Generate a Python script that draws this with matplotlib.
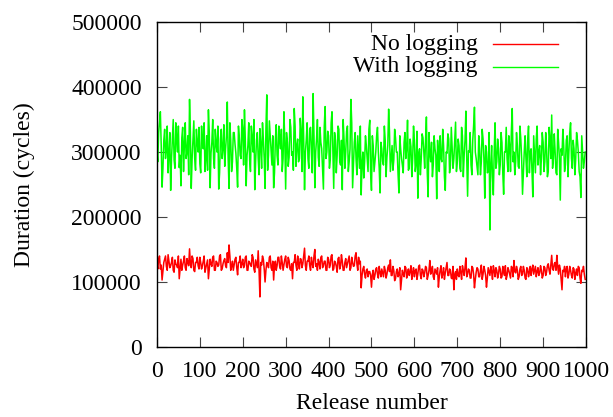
import numpy as np
import matplotlib
matplotlib.use("Agg")
import matplotlib.pyplot as plt

# Samples at releases 0, 4, 8, ..., 996
releases_a = list(range(0, 1000, 4))
# Samples at releases 2, 6, 10, ..., 998
releases_b = list(range(2, 1000, 4))

# Duration with logging (thousands of cycles)
with_logging_a = [
    300, 330, 362, 246, 318, 290, 340, 296, 241, 322, 288, 345, 300, 276, 248, 338, 312, 290, 325, 381, 244, 318, 290, 335, 300,
    282, 340, 305, 270, 325, 365, 245, 315, 290, 335, 300, 243, 320, 290, 342, 305, 377, 244, 318, 285, 330, 298, 246, 322, 290,
    335, 365, 248, 310, 288, 340, 300, 242, 318, 290, 336, 275, 320, 244, 388, 295, 325, 280, 245, 318, 295, 340, 305, 270, 362,
    243, 315, 292, 338, 300, 367, 278, 320, 290, 330, 385, 242, 318, 290, 335, 300, 390, 245, 320, 292, 338, 305, 243, 370, 300,
    325, 288, 362, 244, 318, 295, 335, 280, 242, 320, 300, 340, 285, 381, 245, 315, 290, 325, 275, 234, 300, 285, 310, 270, 349,
    241, 310, 285, 325, 300, 237, 305, 280, 318, 292, 366, 270, 310, 288, 322, 300, 237, 305, 280, 315, 290, 349, 275, 308, 290,
    318, 282, 229, 305, 290, 322, 275, 354, 231, 298, 315, 280, 305, 228, 300, 325, 285, 310, 241, 298, 320, 280, 305, 290, 346,
    285, 310, 270, 325, 295, 363, 232, 300, 280, 318, 369, 290, 265, 305, 285, 320, 229, 300, 270, 180, 310, 234, 345, 285, 305,
    280, 315, 235, 300, 290, 325, 270, 367, 300, 285, 310, 275, 320, 235, 300, 290, 318, 268, 305, 231, 295, 320, 280, 310, 290,
    315, 285, 305, 270, 320, 357, 290, 300, 265, 315, 226, 295, 310, 280, 325, 300, 345, 275, 305, 290, 318, 270, 230, 300, 285,
]
with_logging_b = [
    285, 345, 310, 275, 335, 305, 268, 330, 290, 350, 275, 318, 340, 295, 322, 270, 345, 300, 265, 330, 290, 348, 272, 315, 338,
    268, 318, 345, 290, 272, 330, 298, 350, 275, 312, 340, 268, 335, 305, 278, 325, 290, 345, 270, 330, 312, 275, 340, 295, 350,
    280, 318, 295, 345, 270, 322, 350, 285, 330, 265, 310, 345, 290, 335, 272, 348, 300, 325, 268, 342, 280, 318, 335, 290, 315,
    330, 278, 350, 295, 272, 340, 310, 285, 352, 270, 320, 300, 345, 275, 338, 268, 325, 300, 350, 278, 315, 275, 340, 290, 332,
    275, 345, 300, 330, 268, 340, 285, 318, 350, 275, 332, 270, 305, 345, 278, 330, 265, 300, 340, 282, 260, 325, 290, 335, 268,
    325, 270, 300, 338, 275, 315, 285, 340, 262, 310, 330, 290, 272, 335, 300, 265, 325, 290, 268, 330, 305, 272, 320, 262, 340,
    270, 332, 298, 265, 328, 300, 318, 268, 330, 285, 262, 325, 295, 318, 270, 290, 335, 262, 300, 328, 268, 338, 275, 318, 270,
    320, 275, 338, 262, 318, 290, 302, 330, 265, 340, 300, 278, 325, 265, 335, 290, 310, 268, 330, 280, 262, 300, 275, 320, 265,
    330, 268, 300, 338, 270, 310, 332, 285, 265, 330, 278, 340, 290, 268, 325, 262, 340, 300, 272, 325, 268, 340, 300, 265, 330,
    270, 330, 262, 338, 290, 275, 328, 268, 335, 290, 305, 335, 270, 318, 262, 330, 290, 318, 265, 330, 300, 262, 325, 275, 300,
]

# Duration without logging (thousands of cycles)
no_logging_a = [
    128, 135, 120, 103, 130, 140, 118, 132, 125, 138, 115, 128, 122, 105, 135, 126, 140, 118, 130, 151, 122, 136, 116, 130, 125,
    138, 120, 132, 115, 128, 105, 135, 124, 140, 118, 130, 126, 142, 120, 133, 125, 145, 157, 118, 132, 126, 138, 111, 130, 122,
    135, 125, 140, 118, 130, 124, 138, 115, 128, 148, 77, 126, 135, 100, 130, 122, 140, 118, 103, 132, 125, 138, 120, 130, 127,
    140, 122, 133, 118, 105, 130, 126, 140, 120, 135, 128, 152, 118, 132, 125, 138, 122, 150, 128, 135, 120, 140, 125, 132, 118,
    135, 126, 142, 120, 130, 115, 138, 125, 132, 118, 136, 128, 140, 122, 130, 125, 145, 118, 128, 91, 120, 112, 118, 108, 116,
    92, 118, 110, 122, 106, 115, 120, 108, 118, 112, 126, 134, 110, 118, 105, 120, 112, 88, 118, 108, 122, 114, 110, 125, 115,
    108, 120, 112, 126, 105, 118, 114, 122, 110, 133, 116, 108, 120, 112, 92, 118, 106, 122, 114, 130, 110, 118, 105, 88, 116,
    120, 108, 115, 125, 110, 137, 112, 118, 106, 122, 91, 115, 120, 108, 126, 112, 118, 92, 122, 110, 116, 125, 108, 118, 112,
    120, 108, 115, 125, 110, 118, 106, 122, 133, 114, 118, 108, 124, 112, 118, 104, 120, 115, 110, 126, 118, 108, 122, 114, 118,
    110, 122, 115, 128, 112, 141, 118, 130, 141, 112, 120, 88, 116, 108, 124, 112, 118, 106, 120, 114, 110, 122, 98, 116, 112,
]
no_logging_b = [
    120, 140, 126, 116, 135, 124, 142, 122, 130, 118, 134, 126, 140, 120, 118, 132, 122, 136, 125, 128, 140, 118, 130, 138, 120,
    130, 125, 140, 122, 134, 120, 128, 138, 118, 132, 124, 140, 118, 128, 136, 122, 130, 140, 124, 118, 135, 122, 130, 140, 128,
    122, 138, 118, 132, 126, 142, 120, 134, 122, 118, 130, 140, 120, 118, 128, 138, 122, 132, 126, 118, 138, 124, 140, 118, 135,
    124, 138, 120, 128, 130, 142, 118, 128, 136, 122, 140, 125, 132, 140, 118, 128, 140, 124, 118, 130, 138, 122, 132, 118, 138,
    122, 140, 118, 132, 124, 136, 120, 142, 118, 130, 122, 134, 118, 138, 124, 140, 128, 138, 132, 110, 124, 106, 120, 116, 110,
    112, 104, 120, 112, 124, 108, 114, 124, 106, 122, 116, 110, 124, 102, 116, 108, 122, 104, 112, 124, 106, 120, 116, 104, 122,
    118, 104, 124, 110, 120, 108, 124, 104, 118, 112, 124, 104, 116, 122, 108, 125, 112, 104, 122, 110, 120, 106, 124, 112, 104,
    110, 124, 104, 118, 122, 108, 120, 106, 124, 112, 104, 122, 108, 118, 104, 124, 110, 106, 116, 124, 104, 118, 122, 106, 124,
    106, 124, 110, 104, 122, 112, 124, 108, 116, 124, 104, 120, 110, 124, 106, 122, 108, 124, 120, 112, 124, 116, 110, 125, 106,
    124, 110, 125, 118, 126, 120, 128, 118, 124, 126, 104, 118, 124, 120, 106, 124, 110, 122, 104, 120, 124, 106, 118, 124, 104,
]

x_ticks = [0, 100, 200, 300, 400, 500, 600, 700, 800, 900, 1000]
y_ticks = [0, 100000, 200000, 300000, 400000, 500000]

# Merge the two sample sets in release order (values scaled from thousands)
rel = np.array(releases_a + releases_b)
order = np.argsort(rel)
releases = rel[order]
with_logging = (np.array(with_logging_a + with_logging_b) * 1000)[order]
no_logging = (np.array(no_logging_a + no_logging_b) * 1000)[order]

plt.rcParams['font.family'] = ['Liberation Serif', 'DejaVu Serif']
fig = plt.figure(figsize=(6.13, 4.17), dpi=100)
ax = fig.add_axes([0.256, 0.168, 0.700, 0.779])

ax.plot(releases, no_logging, color='#ff0000', lw=1.1, label='No logging')
ax.plot(releases, with_logging, color='#00ff00', lw=1.1, label='With logging')

ax.set_xlim(0, 1000)
ax.set_ylim(0, 500000)
ax.set_xticks(x_ticks)
ax.set_yticks(y_ticks)
ax.set_xticklabels([str(t) for t in x_ticks])
ax.set_yticklabels([str(t) for t in y_ticks])
ax.tick_params(direction='in', top=True, right=True, length=7, width=0.8,
               labelsize=17, color='#444444')
ax.tick_params(axis='y', pad=11)
ax.tick_params(axis='x', pad=10)
for s in ax.spines.values():
    s.set_linewidth(1.0)
    s.set_color('black')

ax.set_xlabel('Release number', fontsize=17, labelpad=8)
ax.set_ylabel('Duration (cycles)', fontsize=17, labelpad=26)

# gnuplot-style legend: right-aligned text followed by line sample
entries = [('No logging', '#ff0000', 0.932), ('With logging', '#00ff00', 0.862)]
for label, col, yy in entries:
    ax.text(0.748, yy, label, transform=ax.transAxes, ha='right', va='center', fontsize=17)
    ax.plot([0.783, 0.935], [yy, yy], transform=ax.transAxes, color=col, lw=1.0)

fig.savefig('out.png', dpi=100)
